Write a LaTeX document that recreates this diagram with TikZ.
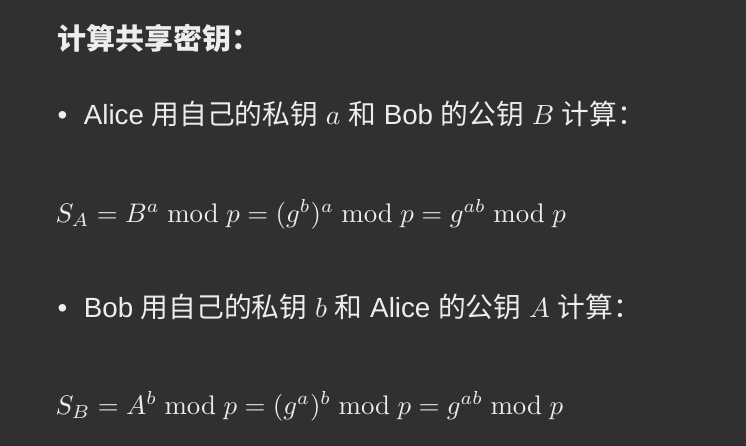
\RequirePackage{fix-cm}
\documentclass[tikz,border=0pt]{standalone}
\usepackage{amsmath, amssymb}
\usepackage[no-math]{fontspec}
\setmainfont{Liberation Sans}
\newfontfamily\cjk{Noto Sans CJK SC}
\usepackage{tikz}
\usetikzlibrary{positioning}

\definecolor{bgdark}{HTML}{303030}
\definecolor{fgtext}{HTML}{EDEDED}

\begin{document}
\begin{tikzpicture}[x=0.4pt, y=-0.4pt,
		heading/.style={anchor=base west, inner sep=0pt, text=fgtext, font=\fontsize{11.6}{13}\selectfont\cjk\bfseries},
		bullet/.style={anchor=base west, inner sep=0pt, text=fgtext, font=\fontsize{11.1}{13}\selectfont},
		formula/.style={anchor=base west, inner sep=0pt, text=fgtext, font=\fontsize{10.75}{13}\selectfont}]
				% background and page size
				\fill[bgdark] (0,0) rectangle (746,446);
				\useasboundingbox (0,0) rectangle (746,446);

				% title
				\node[heading] (title) at (57,50) {计算共享密钥：};

				% Alice
				\node[bullet] (alice) at (57,124) {•\hspace{0.6em}Alice {\cjk 用自己的私钥} $a$ {\cjk 和} Bob {\cjk 的公钥} $B$ {\cjk 计算：}};
				\node[formula] (sa) at (55,222) {$S_A = B^a \bmod p = (g^b)^a \bmod p = g^{ab} \bmod p$};

				% Bob
				\node[bullet] (bob) at (57,317) {•\hspace{0.6em}Bob {\cjk 用自己的私钥} $b$ {\cjk 和} Alice {\cjk 的公钥} $A$ {\cjk 计算：}};
				\node[formula] (sb) at (55,414) {$S_B = A^b \bmod p = (g^a)^b \bmod p = g^{ab} \bmod p$};

			\end{tikzpicture}
\end{document}
